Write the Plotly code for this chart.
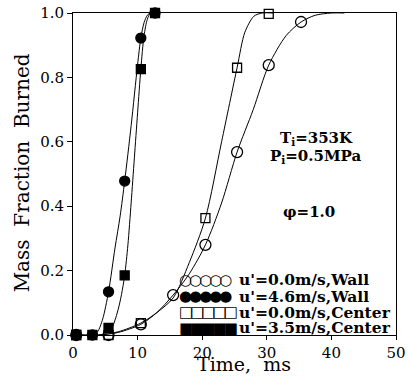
import plotly.graph_objects as go

# ---- measured points (time in ms, mass fraction burned) ----
t_fast = [0.5, 3.0, 5.5, 8.0, 10.5, 12.7]
y_wall_46 = [0.0, 0.0, 0.134, 0.478, 0.922, 1.0]
y_center_35 = [0.0, 0.0, 0.022, 0.185, 0.826, 1.0]

t_slow = [0.5, 5.5, 10.5, 15.5, 20.5, 25.4, 30.3, 35.3]
y_wall_00 = [0.0, 0.0, 0.033, 0.124, 0.280, 0.568, 0.838, 0.972]
t_slow_c = [0.5, 5.5, 10.5, 20.5, 25.4, 30.3]
y_center_00 = [0.0, 0.0, 0.037, 0.363, 0.830, 0.997]

# ---- fitted curves ----
tc_wall_46 = [0.5, 3.0, 3.8, 4.6, 5.5, 6.5, 7.3, 8.0, 9.0, 10.0, 10.5, 11.0, 11.5, 12.0, 13.0]
yc_wall_46 = [0.0, 0.0, 0.01, 0.05, 0.134, 0.27, 0.37, 0.478, 0.65, 0.84, 0.922, 0.97, 0.993, 1.0, 1.0]

tc_center_35 = [0.5, 4.5, 5.5, 6.2, 7.0, 7.5, 8.0, 8.5, 9.0, 9.5, 10.0, 10.5, 11.0, 11.5, 12.0, 13.0]
yc_center_35 = [0.0, 0.0, 0.01, 0.03, 0.08, 0.125, 0.185, 0.28, 0.41, 0.55, 0.69, 0.826, 0.93, 0.98, 1.0, 1.0]

tc_center_00 = [0.5, 4.0, 7.0, 10.5, 13.0, 15.5, 18.0, 20.5, 23.0, 25.4, 26.6, 28.0, 29.3, 31.0]
yc_center_00 = [0.0, 0.0, 0.01, 0.037, 0.07, 0.115, 0.225, 0.363, 0.60, 0.83, 0.94, 0.99, 1.0, 1.0]

tc_wall_00 = [0.5, 4.0, 7.0, 10.5, 13.0, 15.5, 18.0, 20.5, 23.0, 25.4, 27.9, 30.3, 33.0, 35.3, 37.5, 40.0, 42.0]
yc_wall_00 = [0.0, 0.0, 0.008, 0.033, 0.07, 0.124, 0.19, 0.28, 0.41, 0.568, 0.70, 0.838, 0.93, 0.972, 0.993, 1.0, 1.0]

legend_labels = ["u'=0.0m/s,Wall", "u'=4.6m/s,Wall", "u'=0.0m/s,Center", "u'=3.5m/s,Center"]
legend_glyphs = ["○○○○○", "●●●●●", "□□□□□", "■■■■■"]

x_ticks = [0, 10, 20, 30, 40, 50]
y_ticks = [0.0, 0.2, 0.4, 0.6, 0.8, 1.0]

fig = go.Figure()
for tc, yc in [(tc_wall_46, yc_wall_46), (tc_center_35, yc_center_35),
               (tc_center_00, yc_center_00), (tc_wall_00, yc_wall_00)]:
    fig.add_trace(go.Scatter(x=tc, y=yc, mode="lines",
                             line=dict(color="black", width=1, shape="spline", smoothing=0.8),
                             showlegend=False, hoverinfo="skip"))

mk = [
    (t_slow, y_wall_00, "circle-open", 11),
    (t_slow_c, y_center_00, "square-open", 9),
    (t_fast, y_center_35, "square", 9),
    (t_fast, y_wall_46, "circle", 10),
]
for tx, ty, sym, sz in mk:
    fig.add_trace(go.Scatter(x=tx, y=ty, mode="markers", cliponaxis=False,
                             marker=dict(symbol=sym, size=sz, color="black",
                                         line=dict(color="black", width=1.3)),
                             showlegend=False))

serif = "DejaVu Serif"
ann = []
rows_y = [0.171, 0.121, 0.071, 0.022]
for g, lab, yy in zip(legend_glyphs, legend_labels, rows_y):
    ann.append(dict(x=0.322, y=yy, xref="paper", yref="paper", xanchor="left", yanchor="middle",
                    text='<span style="letter-spacing:-3px">' + g + '</span>', showarrow=False,
                    font=dict(family="DejaVu Sans", size=15, color="black")))
    ann.append(dict(x=0.508, y=yy, xref="paper", yref="paper", xanchor="left", yanchor="middle",
                    text="<b>" + lab + "</b>", showarrow=False,
                    font=dict(family=serif, size=15.5, color="black")))

ann.append(dict(x=0.755, y=0.61, xref="paper", yref="paper", xanchor="center", yanchor="middle",
                text="<b>T<sub>i</sub>=353K</b>",
                showarrow=False, font=dict(family=serif, size=15, color="black")))
ann.append(dict(x=0.752, y=0.554, xref="paper", yref="paper", xanchor="center", yanchor="middle",
                text="<b>P<sub>i</sub>=0.5MPa</b>",
                showarrow=False, font=dict(family=serif, size=15, color="black")))
ann.append(dict(x=0.731, y=0.382, xref="paper", yref="paper", xanchor="center", yanchor="middle",
                text="<b>φ=1.0</b>",
                showarrow=False, font=dict(family=serif, size=15, color="black")))
ann.append(dict(x=0.53, y=-0.131, xref="paper", yref="paper", xanchor="center", yanchor="bottom",
                text="Time,  ms",
                showarrow=False, font=dict(family=serif, size=19, color="black")))
ann.append(dict(x=-0.158, y=0.505, xref="paper", yref="paper", xanchor="center", yanchor="middle",
                textangle=-90, text="Mass  Fraction  Burned", showarrow=False,
                font=dict(family=serif, size=20, color="black")))

fig.update_layout(
    width=408, height=378,
    margin=dict(l=73, r=12, t=13, b=43),
    plot_bgcolor="white", paper_bgcolor="white",
    annotations=ann,
    xaxis=dict(range=[0, 50], tickvals=x_ticks, ticks="outside", ticklen=4, tickcolor="black",
               showline=True, linecolor="black", linewidth=1, mirror=True, showgrid=False,
               zeroline=False, automargin=False,
               tickfont=dict(family=serif, size=15, color="black")),
    yaxis=dict(range=[0, 1], tickvals=y_ticks, tickformat=".1f", ticks="outside", ticklen=5,
               tickcolor="black", showline=True, linecolor="black", linewidth=1, mirror=True,
               showgrid=False, zeroline=False, automargin=False,
               tickfont=dict(family=serif, size=15, color="black")),
)

fig.write_html("out.html", config={"displayModeBar": False},
               post_script="document.body.style.margin='0';document.body.style.padding='0';")
